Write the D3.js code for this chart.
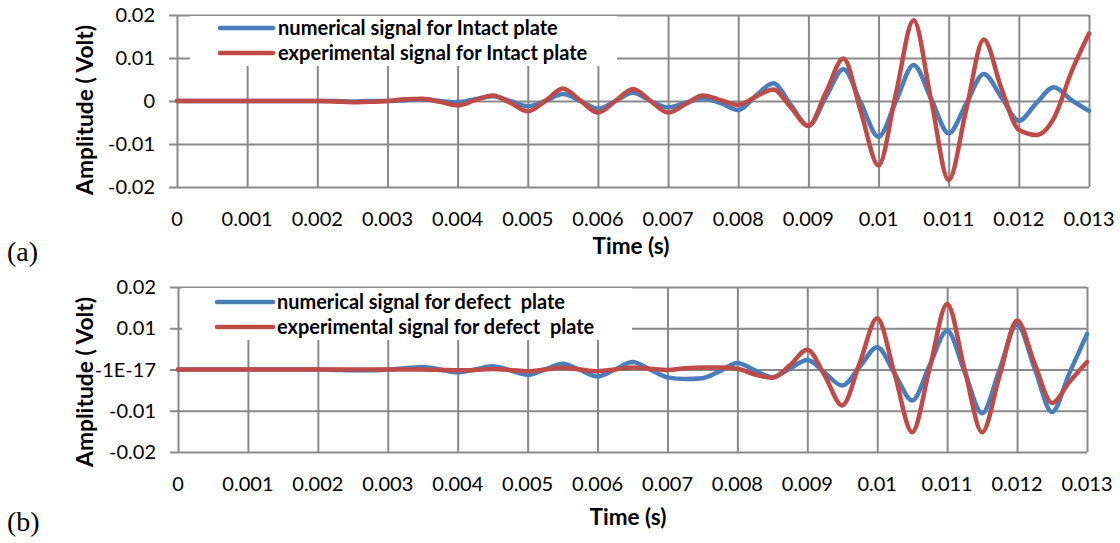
<!DOCTYPE html>
<html><head><meta charset="utf-8">
<script src="https://cdn.jsdelivr.net/npm/d3@7"></script>
<style>body{margin:0;background:#fff}svg{display:block}text{white-space:pre}</style>
</head><body>
<svg id="c" width="1120" height="543"></svg>
<script>
const times = [0,0.00025,0.0005,0.00075,0.001,0.00125,0.0015,0.00175,0.002,0.00225,0.0025,0.00275,0.003,0.00325,0.0035,0.00375,0.004,0.00425,0.0045,0.00475,0.005,0.00525,0.0055,0.00575,0.006,0.00625,0.0065,0.00675,0.007,0.00725,0.0075,0.00775,0.008,0.00825,0.0085,0.00875,0.009,0.00925,0.0095,0.00975,0.01,0.01025,0.0105,0.01075,0.011,0.01125,0.0115,0.01175,0.012,0.01225,0.0125,0.01275,0.013];
const intactNumerical = [0,0,0,0,0,0,0,0,0,0,-0.0001,0,0,0.0002,0.0004,0,-0.0003,0.0004,0.0011,0,-0.0012,0,0.0016,0,-0.0018,0,0.0019,0,-0.0015,-0.0004,0.0006,-0.0005,-0.0021,0.0012,0.0041,-0.0009,-0.0058,0.0009,0.0074,-0.0005,-0.0083,0,0.0084,0.0005,-0.0075,-0.0006,0.0063,0.0009,-0.0046,-0.0005,0.0032,0.0002,-0.0023];
const intactExperimental = [0,0,0,0,0,0,0,0,0,-0.0001,-0.0003,-0.0002,0,0.0004,0.0005,-0.0002,-0.001,0.0002,0.0013,-0.0004,-0.0024,0,0.0029,0.0001,-0.0027,0,0.0028,0,-0.0027,-0.0007,0.0013,0.0002,-0.0009,0.001,0.0027,-0.0015,-0.0058,0.002,0.0099,-0.0026,-0.015,0.0019,0.0188,0.0002,-0.0184,-0.002,0.0143,0.003,-0.0067,-0.0079,-0.004,0.0068,0.0157];
const defectNumerical = [0,0,0,0,0,0,0,0,0,-0.0001,-0.0002,-0.0002,0,0.0003,0.0006,0,-0.0007,0,0.0008,-0.0002,-0.0013,0,0.0014,-0.0001,-0.0017,0,0.0018,0,-0.0019,-0.0023,-0.0021,-0.0004,0.0016,-0.0002,-0.0019,0.0002,0.0023,-0.0008,-0.0039,0.0007,0.0054,-0.001,-0.0075,0.001,0.0094,-0.0006,-0.0106,0,0.0109,0.0003,-0.0103,-0.0008,0.0086];
const defectExperimental = [0,0,0,0,0,0,0,0,0,0,0,0,0,0,0,-0.0001,-0.0002,-0.0001,0.0001,-0.0001,-0.0004,0,0.0004,0,-0.0004,0,0.0005,0.0002,-0.0001,0.0003,0.0005,0.0005,0.0002,-0.0012,-0.002,0.001,0.0048,-0.0015,-0.0087,0.0016,0.0124,-0.0012,-0.0152,0.0003,0.0159,0,-0.0152,-0.0015,0.0119,0.0015,-0.0081,-0.003,0.0018];
const xTickValues = [0,0.001,0.002,0.003,0.004,0.005,0.006,0.007,0.008,0.009,0.01,0.011,0.012,0.013];
const xTickLabels = ["0","0.001","0.002","0.003","0.004","0.005","0.006","0.007","0.008","0.009","0.01","0.011","0.012","0.013"];
const yTickValues = [0.02,0.01,0,-0.01,-0.02];
const yTickLabelsA = ["0.02","0.01","0","-0.01","-0.02"];
const yTickLabelsB = ["0.02","0.01","-1E-17","-0.01","-0.02"];
const seriesNamesA = ["numerical signal for Intact plate","experimental signal for Intact plate"];
const seriesNamesB = ["numerical signal for defect  plate","experimental signal for defect  plate"];
const panelTags = ["(a)","(b)"];
const xTitle = "Time (s)";
const yTitle = "Amplitude ( Volt)";

const BLUE = "#4A7EBB", RED = "#BE4B48", GRID = "#898989";
const FONT = "Lato, 'Open Sans', sans-serif";
const svg = d3.select("#c");

function fit(sel, target){
  const len = sel.node().getComputedTextLength();
  const fs = parseFloat(sel.attr("font-size"));
  sel.attr("font-size", fs * target / len);
  return fs * target / len;
}

const panels = [
  {l:177,r:1089,t:15,b:187, yLabels:yTickLabelsA, names:seriesNamesA, series:[intactNumerical,intactExperimental],
   leg:{x0:190,x1:617,y0:16,y1:66,lx0:220,lx1:273,ly:[28,53],tx:278,tw:280},
   yLabelX:155, xLabelY:226, xTitleX:631, xTitleY:254, xTitleW:77, yTitleX:85, yTitleY:110, yTitleW:170, tagY:261},
  {l:178,r:1087,t:287,b:452, yLabels:yTickLabelsB, names:seriesNamesB, series:[defectNumerical,defectExperimental],
   leg:{x0:182,x1:632,y0:288,y1:340,lx0:217,lx1:273,ly:[302,327],tx:277,tw:288},
   yLabelX:156, xLabelY:491, xTitleX:628, xTitleY:525, xTitleW:77, yTitleX:85, yTitleY:382, yTitleW:170, tagY:531}
];

panels.forEach((p, pi) => {
  const x = d3.scaleLinear().domain([0, 0.013]).range([p.l, p.r]);
  const y = d3.scaleLinear().domain([-0.02, 0.02]).range([p.b, p.t]);
  const g = svg.append("g");

  g.append("g").attr("transform", `translate(${p.l},0)`)
    .call(d3.axisLeft(y).tickValues(yTickValues).tickSize(8).tickFormat(""))
    .call(a => a.select(".domain").remove())
    .call(a => a.selectAll("line").attr("stroke", GRID).attr("stroke-width", 2));
  g.append("g").attr("transform", `translate(${p.l},0)`)
    .call(d3.axisRight(y).tickValues(yTickValues).tickSize(p.r - p.l).tickFormat(""))
    .call(a => a.select(".domain").remove())
    .call(a => a.selectAll("line").attr("stroke", GRID).attr("stroke-width", 2));
  g.append("g").attr("transform", `translate(0,${p.b})`)
    .call(d3.axisTop(x).tickValues(xTickValues).tickSize(p.b - p.t).tickFormat(""))
    .call(a => a.select(".domain").remove())
    .call(a => a.selectAll("line").attr("stroke", GRID).attr("stroke-width", 2));

  g.selectAll(".yl").data(yTickValues).join("text")
    .attr("x", p.yLabelX).attr("y", d => y(d)).attr("dy", "0.35em")
    .attr("text-anchor", "end").attr("font-family", FONT).attr("font-size", 20).attr("fill", "#000")
    .text((d, i) => p.yLabels[i]);
  g.selectAll(".xl").data(xTickValues).join("text")
    .attr("x", d => x(d)).attr("y", p.xLabelY)
    .attr("text-anchor", "middle").attr("font-family", FONT).attr("font-size", 20).attr("fill", "#000")
    .text((d, i) => xTickLabels[i]);

  const xt = g.append("text").attr("x", p.xTitleX).attr("y", p.xTitleY).attr("text-anchor", "middle")
    .attr("font-family", FONT).attr("font-weight", "bold").attr("font-size", 20).text(xTitle);
  fit(xt, p.xTitleW);
  const yt = g.append("text").attr("transform", `translate(${p.yTitleX},${p.yTitleY}) rotate(-90)`)
    .attr("text-anchor", "middle").attr("dy", "0.35em")
    .attr("font-family", FONT).attr("font-weight", "bold").attr("font-size", 20).text(yTitle);
  fit(yt, p.yTitleW);
  g.append("text").attr("x", 7).attr("y", p.tagY).attr("font-family", "'Liberation Serif', serif")
    .attr("font-size", 28).text(panelTags[pi]);

  const line = d3.line().x((d, i) => x(times[i])).y(d => y(d)).curve(d3.curveMonotoneX);
  [BLUE, RED].forEach((c, si) => {
    g.append("path").datum(p.series[si]).attr("d", line).attr("fill", "none")
      .attr("stroke", c).attr("stroke-width", 4.5).attr("stroke-linejoin", "round").attr("stroke-linecap", "round");
  });

  const L = p.leg;
  g.append("rect").attr("x", L.x0).attr("y", L.y0).attr("width", L.x1 - L.x0).attr("height", L.y1 - L.y0).attr("fill", "#fff");
  let fs = null;
  [BLUE, RED].forEach((c, si) => {
    g.append("line").attr("x1", L.lx0).attr("x2", L.lx1).attr("y1", L.ly[si]).attr("y2", L.ly[si])
      .attr("stroke", c).attr("stroke-width", 4.5).attr("stroke-linecap", "round");
    const t = g.append("text").attr("x", L.tx).attr("y", L.ly[si]).attr("dy", "0.35em")
      .attr("font-family", FONT).attr("font-weight", "bold").attr("font-size", 20).text(p.names[si]);
    if (si === 0) fs = fit(t, L.tw); else t.attr("font-size", fs);
  });
});
</script>
</body></html>
